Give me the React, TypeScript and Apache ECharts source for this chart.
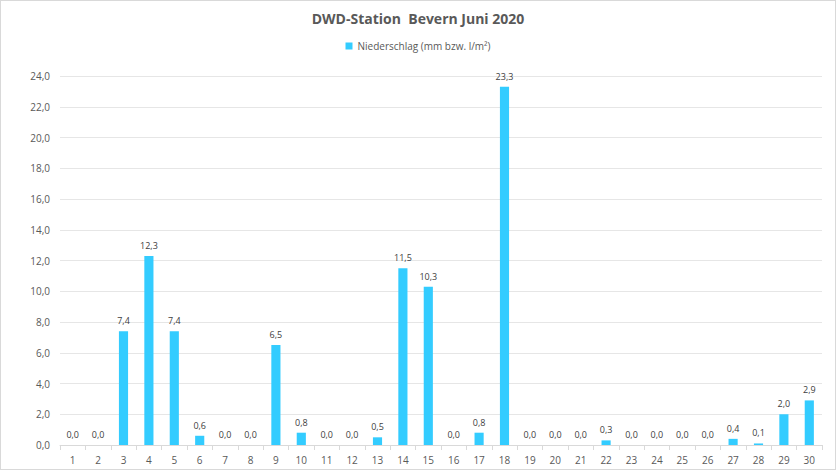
import React, { useEffect, useRef } from "react";
import * as echarts from "echarts";

const days = Array.from({ length: 30 }, (_, i) => String(i + 1));
const rain = [0, 0, 7.4, 12.3, 7.4, 0.6, 0, 0, 6.5, 0.8, 0, 0, 0.5, 11.5, 10.3, 0, 0.8, 23.3, 0, 0, 0, 0.3, 0, 0, 0, 0, 0.4, 0.1, 2.0, 2.9];
const title = "DWD-Station  Bevern Juni 2020";
const seriesName = "Niederschlag (mm bzw. l/m²)";

const fmt = (v: number) => v.toFixed(1).replace(".", ",");

export default function App() {
  const ref = useRef<HTMLDivElement>(null);
  useEffect(() => {
    const chart = echarts.init(ref.current!, null, { renderer: "svg" });
    const font = "'Open Sans', 'Liberation Sans', sans-serif";
    chart.setOption({
      animation: false,
      backgroundColor: "#ffffff",
      textStyle: { fontFamily: font },
      title: {
        text: title,
        left: "center",
        top: 5,
        textStyle: { fontSize: 14, fontWeight: "bold", color: "#595959", fontFamily: font },
      },
      legend: {
        top: 35,
        left: "center",
        itemWidth: 7,
        itemHeight: 7,
        icon: "rect",
        itemGap: 4,
        textStyle: { fontSize: 10, color: "#595959", fontFamily: font },
        data: [seriesName],
      },
      grid: { left: 59, right: 13, top: 75, bottom: 24, containLabel: false },
      xAxis: {
        type: "category",
        data: days,
        axisLine: { lineStyle: { color: "#d9d9d9" } },
        axisTick: { show: true, alignWithLabel: false, lineStyle: { color: "#d9d9d9" } },
        axisLabel: { color: "#595959", fontSize: 10, margin: 10 },
      },
      yAxis: {
        type: "value",
        min: 0,
        max: 24,
        interval: 2,
        axisLine: { show: false },
        axisTick: { show: false },
        axisLabel: { color: "#595959", fontSize: 10, margin: 10, formatter: (v: number) => fmt(v) },
        splitLine: { lineStyle: { color: "#e6e6e6" } },
      },
      series: [
        {
          name: seriesName,
          type: "bar",
          data: rain,
          barWidth: "36%",
          itemStyle: { color: "#33ccff" },
          label: {
            show: true,
            position: "top",
            distance: 6,
            fontSize: 9,
            color: "#404040",
            formatter: (p: any) => fmt(p.value),
          },
        },
      ],
    });
    return () => chart.dispose();
  }, []);
  return (
    <div
      style={{
        position: "absolute",
        left: 0,
        top: 0,
        width: 834,
        height: 468,
        border: "1px solid #d9d9d9",
        background: "#fff",
      }}
    >
      <div ref={ref} style={{ width: 834, height: 468 }} />
    </div>
  );
}
